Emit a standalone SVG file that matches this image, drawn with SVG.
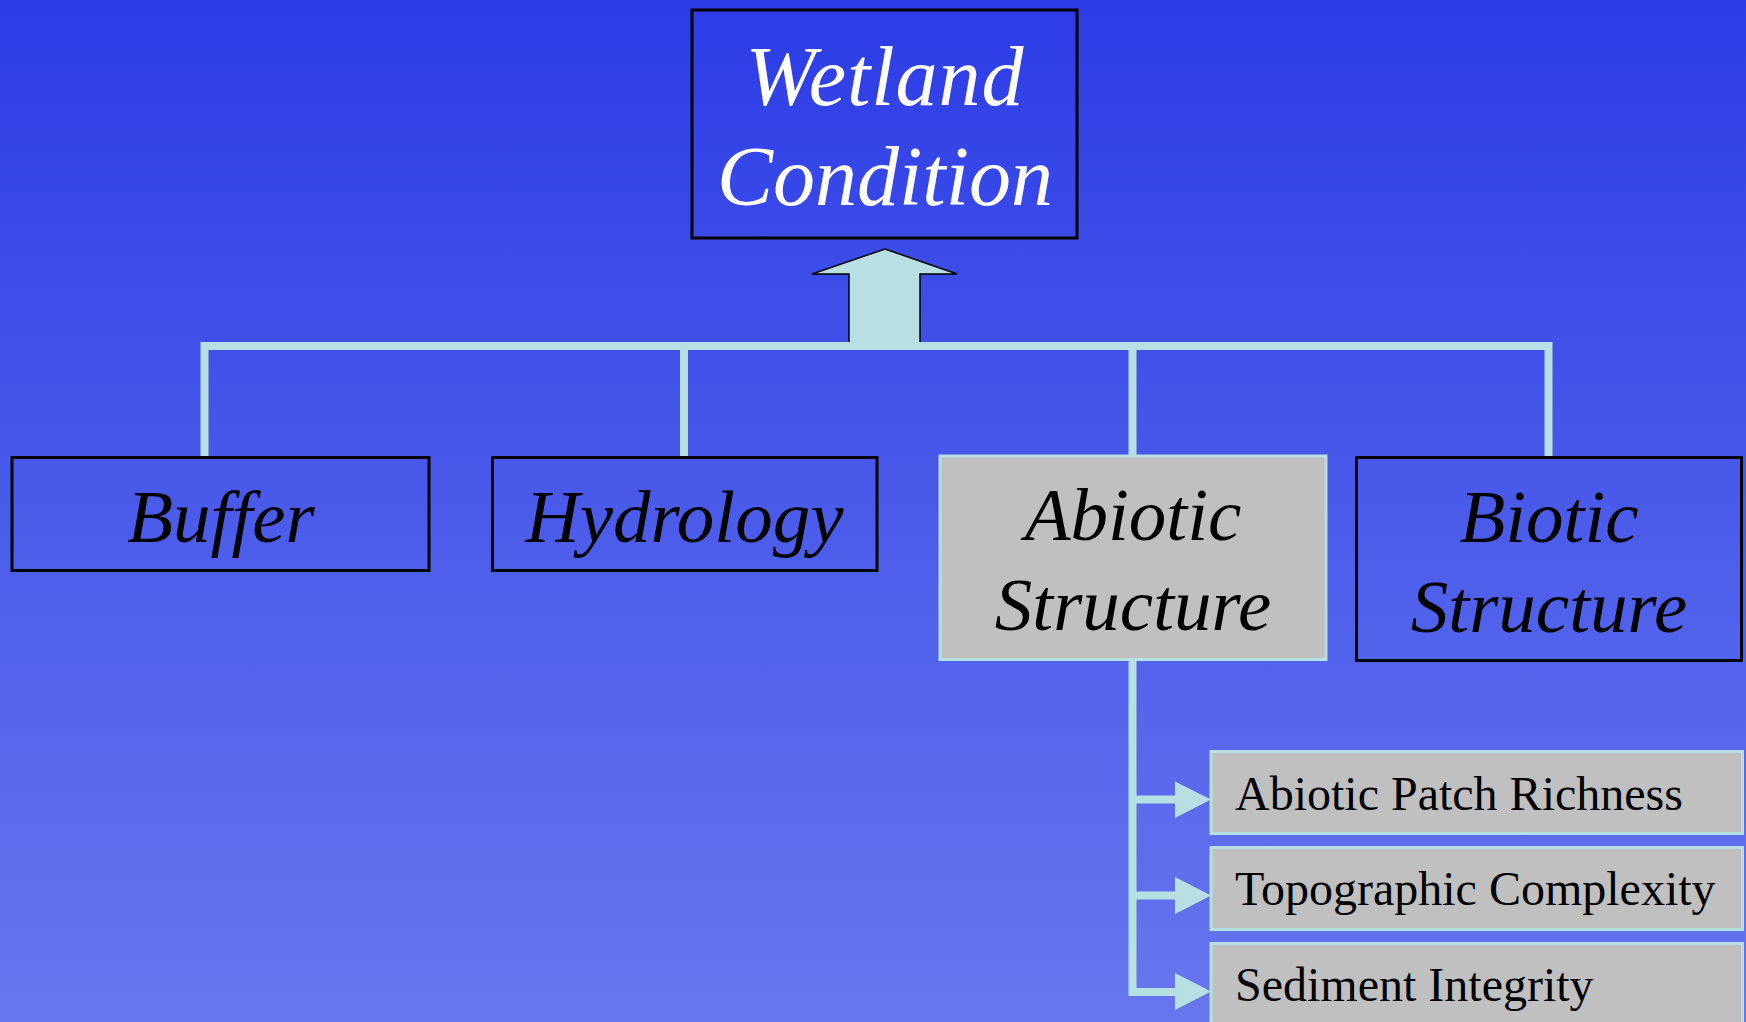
<svg xmlns="http://www.w3.org/2000/svg" width="1746" height="1022" viewBox="0 0 1746 1022">
<defs>
<linearGradient id="bg" x1="0" y1="0" x2="0" y2="1">
<stop offset="0" stop-color="#2C3CE6"/>
<stop offset="0.5" stop-color="#4A5BEA"/>
<stop offset="1" stop-color="#6677EE"/>
</linearGradient>
<style>
.blue{fill:none;stroke:#000;stroke-width:3}
.grey{fill:#C0C0C0;stroke:#B8E0E2;stroke-width:3}
.conn{fill:none;stroke:#B8E0E2;stroke-width:8}
.head{fill:#B8E0E2;stroke:none}
.big{font-family:"Liberation Serif","Times New Roman",serif;font-style:italic;font-size:75px;text-anchor:middle;fill:#000}
.title{font-family:"Liberation Serif","Times New Roman",serif;font-style:italic;font-size:84px;text-anchor:middle;fill:#fff}
.sub{font-family:"Liberation Serif","Times New Roman",serif;font-size:48px;fill:#000}
</style>
</defs>
<rect x="0" y="0" width="1746" height="1022" fill="url(#bg)"/>
<g id="connectors">
<polygon points="885,249 957,274 920,274 920,346 849,346 849,274 812,274" fill="#B8E0E2" stroke="#000" stroke-width="1.5" stroke-linejoin="miter"/>
<polyline class="conn" points="204.5,457 204.5,346 1548.5,346 1548.5,457"/>
<line class="conn" x1="684" y1="346" x2="684" y2="457"/>
<line class="conn" x1="1132.5" y1="346" x2="1132.5" y2="456"/>
<polyline class="conn" points="1132.5,660 1132.5,992 1176,992"/>
<line class="conn" x1="1132.5" y1="799.5" x2="1176" y2="799.5"/>
<line class="conn" x1="1132.5" y1="895.5" x2="1176" y2="895.5"/>
<polygon class="head" points="1175,781.5 1211,799.5 1175,818"/>
<polygon class="head" points="1175,877 1211,895.5 1175,914"/>
<polygon class="head" points="1175,973 1211,991.5 1175,1010"/>
</g>
<g id="wetland">
<rect class="blue" x="692" y="10" width="385" height="228"/>
<text class="title" x="885" y="105" letter-spacing="1">Wetland</text>
<text class="title" x="885" y="205">Condition</text>
</g>
<g id="buffer">
<rect class="blue" x="12" y="457.5" width="417" height="113"/>
<text class="big" x="221" y="542">Buffer</text>
</g>
<g id="hydrology">
<rect class="blue" x="492.5" y="457.5" width="384.5" height="113"/>
<text class="big" x="684.5" y="542">Hydrology</text>
</g>
<g id="abiotic">
<rect class="grey" x="940" y="456" width="386" height="203.5"/>
<text class="big" x="1133" y="540">Abiotic</text>
<text class="big" x="1133" y="630">Structure</text>
</g>
<g id="biotic">
<rect class="blue" x="1356.5" y="457.5" width="385" height="203"/>
<text class="big" x="1549" y="541.5">Biotic</text>
<text class="big" x="1549" y="631.5">Structure</text>
</g>
<g id="patch">
<rect class="grey" x="1211" y="751.5" width="531.5" height="82"/>
<text class="sub" x="1235" y="810">Abiotic Patch Richness</text>
</g>
<g id="topo">
<rect class="grey" x="1211" y="847.5" width="531.5" height="82"/>
<text class="sub" x="1235" y="905">Topographic Complexity</text>
</g>
<g id="sediment">
<rect class="grey" x="1211" y="943.5" width="531.5" height="90"/>
<text class="sub" x="1235" y="1001">Sediment Integrity</text>
</g>
</svg>
